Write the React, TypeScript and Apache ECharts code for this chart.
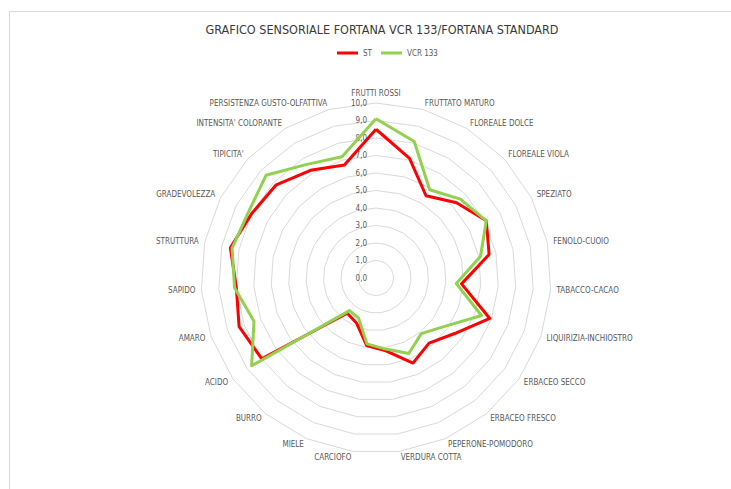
import React, { useEffect, useRef } from "react";
import * as echarts from "echarts";

const TITLE = "GRAFICO SENSORIALE FORTANA VCR 133/FORTANA STANDARD";

const indicatorNames = [
  "FRUTTI ROSSI",
  "FRUTTATO MATURO",
  "FLOREALE DOLCE",
  "FLOREALE VIOLA",
  "SPEZIATO",
  "FENOLO-CUOIO",
  "TABACCO-CACAO",
  "LIQUIRIZIA-INCHIOSTRO",
  "ERBACEO SECCO",
  "ERBACEO FRESCO",
  "PEPERONE-POMODORO",
  "VERDURA COTTA",
  "CARCIOFO",
  "MIELE",
  "BURRO",
  "ACIDO",
  "AMARO",
  "SAPIDO",
  "STRUTTURA",
  "GRADEVOLEZZA",
  "TIPICITA'",
  "INTENSITA' COLORANTE",
  "PERSISTENZA GUSTO-OLFATTIVA",
];

const seriesNames = ["ST", "VCR 133"];

const stValues = [
  8.5, 7.1, 5.5, 6.3, 7.1, 6.6, 4.9, 6.9, 5.5, 4.8, 5.3, 4.2, 3.9, 2.8, 2.6,
  8.0, 8.3, 8.0, 8.5, 8.0, 7.8, 7.2, 6.7,
];

const vcrValues = [
  9.1, 8.1, 5.9, 6.6, 7.1, 6.1, 4.6, 6.4, 4.8, 4.1, 4.7, 4.1, 3.8, 2.5, 2.4,
  8.7, 7.4, 8.1, 8.4, 8.2, 8.6, 7.6, 7.2,
];

const AXIS_MIN = 0;
const AXIS_MAX = 10;
const AXIS_INTERVAL = 1;

const FONT =
  "'Liberation Sans Narrow', 'DejaVu Sans Condensed', 'Liberation Sans', sans-serif";

// ECharts lays radar indicators out counter-clockwise; Excel goes clockwise.
// Keep the first axis on top and reverse the rest.
const order = [0, ...indicatorNames.map((_, i) => i).slice(1).reverse()];
const reorder = <T,>(arr: T[]): T[] => order.map((i) => arr[i]);

export default function App() {
  const ref = useRef<HTMLDivElement>(null);

  useEffect(() => {
    if (!ref.current) return;
    const chart = echarts.init(ref.current, undefined, { renderer: "svg" });

    const indicator = reorder(indicatorNames).map((name, i) => {
      const ind: any = { name, min: AXIS_MIN, max: AXIS_MAX };
      if (i === 0) {
        ind.axisLabel = {
          show: true,
          color: "#595959",
          fontSize: 8,
          fontFamily: FONT,
          margin: 9,
          showMinLabel: true,
          showMaxLabel: true,
          formatter: (v: number) => v.toFixed(1).replace(".", ","),
        };
      }
      return ind;
    });

    chart.setOption({
      animation: false,
      backgroundColor: "#ffffff",
      title: {
        text: TITLE,
        left: 377,
        top: 18,
        textAlign: "center",
        textStyle: {
          fontFamily: FONT,
          fontSize: 12.5,
          fontWeight: "normal",
          color: "#3a3a3a",
        },
      },
      legend: {
        data: seriesNames,
        left: 332,
        top: 44,
        icon: "rect",
        itemWidth: 21,
        itemHeight: 3,
        itemGap: 9,
        textStyle: { fontFamily: FONT, fontSize: 8, color: "#595959" },
      },
      graphic: [
        {
          type: "rect",
          shape: { x: 9.5, y: 11.5, width: 760, height: 520 },
          style: { fill: "none", stroke: "#d9d9d9", lineWidth: 1 },
          silent: true,
        },
      ],
      radar: {
        center: [376, 278],
        radius: 175,
        startAngle: 90,
        splitNumber: (AXIS_MAX - AXIS_MIN) / AXIS_INTERVAL,
        shape: "polygon",
        nameGap: 6,
        axisName: {
          color: "#595959",
          fontSize: 8,
          fontFamily: FONT,
        },
        axisLine: { show: false },
        axisTick: { show: false },
        axisLabel: { show: false },
        splitLine: { lineStyle: { color: "#d9d9d9", width: 1 } },
        splitArea: { show: false },
        indicator,
      },
      series: [
        {
          type: "radar",
          symbol: "none",
          data: [
            {
              name: seriesNames[0],
              value: reorder(stValues),
              lineStyle: { color: "#ff0000", width: 3 },
              itemStyle: { color: "#ff0000" },
            },
            {
              name: seriesNames[1],
              value: reorder(vcrValues),
              lineStyle: { color: "#92d050", width: 3 },
              itemStyle: { color: "#92d050" },
            },
          ],
        },
      ],
    });

    return () => chart.dispose();
  }, []);

  return (
    <div
      ref={ref}
      style={{ position: "fixed", left: 0, top: 0, width: 731, height: 489 }}
    />
  );
}
